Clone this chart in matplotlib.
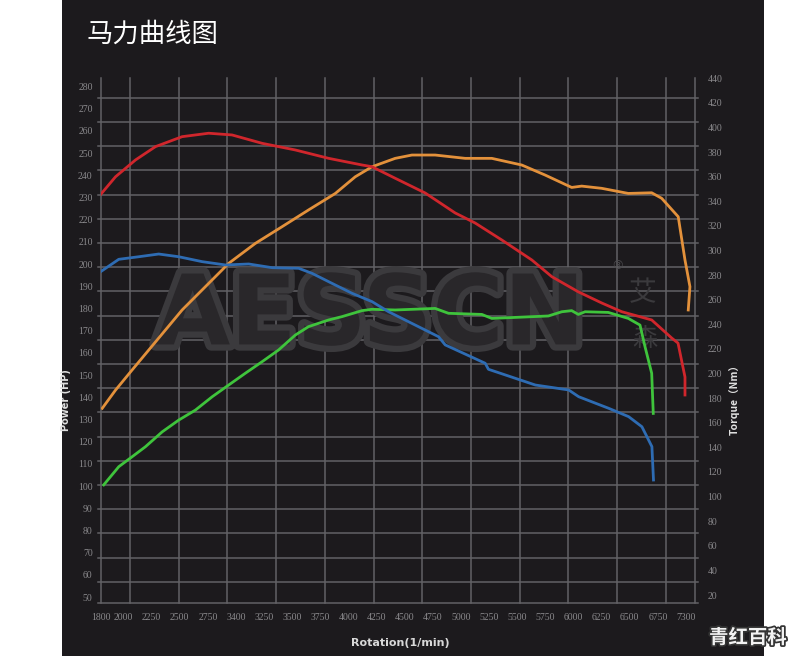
import matplotlib
matplotlib.use("Agg")
import matplotlib.pyplot as plt
import matplotlib.patheffects as pe
from matplotlib.patches import Rectangle

plt.rcParams['font.family'] = ['DejaVu Sans', 'Noto Sans CJK SC']

# tuned torque (red, right axis, Nm)
red_rpm = [1780, 1929, 2107, 2284, 2521, 2757, 2965, 3232, 3527, 3823, 4120, 4208,
           4415, 4682, 4948, 5126, 5363, 5629, 5807, 6040, 6251, 6429, 6695, 6873,
           6929, 6991, 6991]
red_nm = [343.8, 360.0, 373.7, 384.5, 392.6, 395.4, 394.0, 387.2, 381.8, 375.0, 369.6, 368.2,
          358.8, 346.8, 330.6, 322.4, 308.6, 292.4, 278.8, 266.6, 257.4, 250.3, 243.6, 228.9,
          224.8, 197.2, 182.6]

# stock torque (blue, right axis, Nm)
blue_rpm = [1796, 1958, 2136, 2313, 2491, 2699, 2906, 3113, 3321, 3557, 3676, 3824,
            4031, 4209, 4356, 4415, 4800, 4860, 5215, 5244, 5661, 5957, 6046, 6312,
            6490, 6608, 6697, 6711]
blue_nm = [282.8, 292.9, 295.0, 297.2, 295.0, 291.0, 288.3, 289.1, 286.1, 285.6, 281.5, 274.7,
           265.3, 258.5, 250.3, 247.6, 230.0, 223.3, 208.4, 203.5, 190.7, 186.7, 181.2, 171.8,
           165.0, 156.8, 140.6, 113.5]

# tuned power (orange, left axis, HP)
orange_rpm = [1811, 1929, 2077, 2225, 2373, 2521, 2728, 2935, 3172, 3409, 3646, 3883,
              4060, 4208, 4415, 4564, 4770, 5037, 5274, 5540, 5747, 5984, 6073, 6251,
              6487, 6695, 6784, 6931, 6991, 7035, 7020]
orange_hp = [135.0, 143.2, 152.3, 161.3, 170.3, 179.3, 189.8, 200.3, 209.3, 216.8, 224.4, 231.8,
             239.3, 243.8, 247.6, 249.1, 249.1, 247.6, 247.6, 244.6, 240.1, 234.5, 235.1, 234.1,
             231.8, 232.1, 229.6, 221.3, 201.8, 189.8, 179.3]

# stock power (green, left axis, HP)
green_rpm = [1824, 1958, 2077, 2195, 2344, 2491, 2639, 2788, 2935, 3083, 3232, 3379,
             3527, 3645, 3823, 3942, 4120, 4208, 4415, 4770, 4889, 5185, 5274, 5777,
             5896, 5984, 6043, 6103, 6309, 6487, 6591, 6636, 6695, 6709]
green_hp = [100.5, 108.7, 113.2, 117.7, 124.4, 129.7, 134.2, 140.2, 145.5, 150.8, 156.0, 161.3,
            168.0, 171.8, 174.8, 176.3, 179.0, 179.6, 179.3, 180.0, 177.8, 177.3, 175.5, 176.6,
            178.5, 179.0, 177.3, 178.5, 178.2, 175.5, 172.5, 162.7, 150.8, 132.7]

rpm_ticks = [1800, 2000, 2250, 2500, 2750, 3000, 3250, 3500, 3750, 4000, 4250, 4500,
             4750, 5000, 5250, 5500, 5750, 6000, 6250, 6500, 6750, 7000]
rpm_labels = ['1800', '2000', '2250', '2500', '2750', '3400', '3250', '3500', '3750', '4000',
              '4250', '4500', '4750', '5000', '5250', '5500', '5750', '6000', '6250', '6500',
              '6750', '7300']
hp_ticks = list(range(50, 290, 10))
nm_ticks = list(range(20, 460, 20))

fig = plt.figure(figsize=(8, 6.56), dpi=100)
fig.patch.set_facecolor('white')
fig.add_artist(Rectangle((62 / 800, 0), (764 - 62) / 800, 1, transform=fig.transFigure,
                         facecolor='#1c1a1d', edgecolor='none', zorder=0))

ax = fig.add_axes([101 / 800, 1 - 603 / 656, 594 / 800, 525 / 656])
ax.set_facecolor('none')
ax.set_xlim(1804, 7080)
ax.set_ylim(47.3, 283.8)
ax2 = ax.twinx()
ax2.set_ylim(13.5, 440.3)

# grid overlay (not aligned to ticks in the original)
grid_col = '#626165'
vx = [0.0, 1.0] + [(130 + 48.7 * k - 101) / 594 for k in range(12)]
for f in vx:
    ax.plot([f, f], [0, 1], transform=ax.transAxes, color=grid_col, lw=1.1, zorder=1, clip_on=False)
hy = [0.0] + [(603 - (97.7 + 24.2 * k)) / 525 for k in range(21)]
for f in hy:
    ax.plot([-0.005, 1.005], [f, f], transform=ax.transAxes, color=grid_col, lw=1.1, zorder=1, clip_on=False)

# watermark (hollow block letters)
ax.text(0.453, 0.543, 'AESSCN', transform=ax.transAxes, fontsize=70, fontweight='bold',
        color='#29272a', ha='center', va='center', zorder=2,
        path_effects=[pe.withStroke(linewidth=9, foreground='#3b3a3d')])
ax.text(0.870, 0.643, '®', transform=ax.transAxes, fontsize=9, color='#4a494c', ha='center', va='center', zorder=2)
ax.text(0.911, 0.590, '艾', transform=ax.transAxes, fontsize=20, color='#3b3a3d',
        ha='center', va='center', zorder=2, family=['Noto Sans CJK SC'])
ax.text(0.916, 0.503, '森', transform=ax.transAxes, fontsize=18, color='#3b3a3d',
        ha='center', va='center', zorder=2, family=['Noto Sans CJK SC'])

ax.plot(orange_rpm, orange_hp, color='#e3913b', lw=2, zorder=4)
ax.plot(green_rpm, green_hp, color='#3fc43c', lw=2, zorder=4)
ax2.plot(blue_rpm, blue_nm, color='#2e6cb3', lw=2, zorder=4)
ax2.plot(red_rpm, red_nm, color='#d0262c', lw=2, zorder=4)

ax.set_xticks(rpm_ticks, rpm_labels)
ax.set_yticks(hp_ticks)
ax2.set_yticks(nm_ticks)
for a in (ax, ax2):
    for s in a.spines.values():
        s.set_visible(False)
    a.tick_params(length=0, colors='#8a898c', labelsize=7, labelfontfamily='Liberation Serif')
ax.tick_params(axis='x', pad=7)
ax.tick_params(axis='y', pad=6)
ax2.tick_params(axis='y', pad=9)

fig.text(86 / 800, 1 - 34 / 656, '马力曲线图', fontsize=19, color='white', va='center',
         family=['Noto Sans CJK SC'])
fig.text(66 / 800, 1 - 400 / 656, 'Power (HP)', rotation=90, fontsize=7, fontweight='bold',
         color='#e0e0e0', ha='center', va='center')
fig.text(734 / 800, 1 - 397 / 656, 'Torque（Nm）', rotation=90, fontsize=7.5, fontweight='bold',
         color='#e0e0e0', ha='center', va='center', family=['Noto Sans CJK SC'])
fig.text(400 / 800, 1 - 643 / 656, 'Rotation(1/min)', fontsize=8, fontweight='bold',
         color='#d8d8d8', ha='center', va='center')
fig.text(748 / 800, 1 - 638 / 656, '青红百科', fontsize=14, fontweight='bold', color='#f2f2f2',
         ha='center', va='center', family=['Noto Sans CJK SC'],
         path_effects=[pe.withStroke(linewidth=2.5, foreground='#333333')])

fig.savefig('out.png', dpi=100, facecolor=fig.get_facecolor())
